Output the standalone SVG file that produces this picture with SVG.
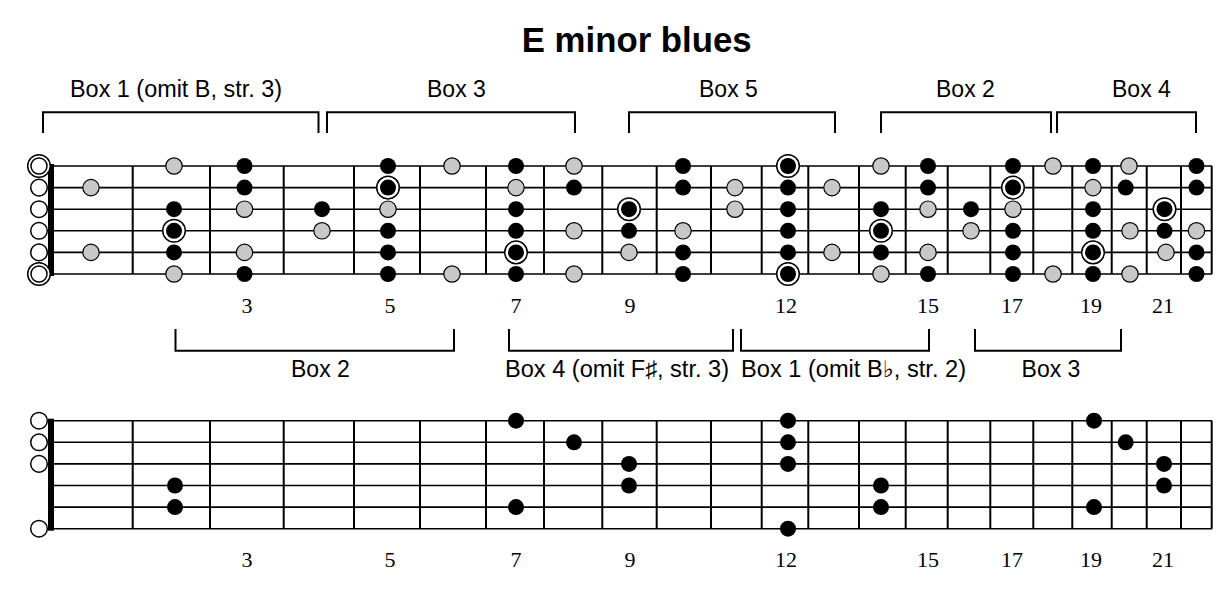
<svg xmlns="http://www.w3.org/2000/svg" xmlns:xlink="http://www.w3.org/1999/xlink" width="1230" height="589" viewBox="0 0 1230 589">
<style>
.str{stroke:#000;stroke-width:1.6}
.fret{stroke:#000;stroke-width:2}
.brk{fill:none;stroke:#000;stroke-width:2}
.lbl{font-family:"Liberation Sans","DejaVu Sans",sans-serif;font-size:23px;fill:#000}
.num{font-family:"Liberation Serif","DejaVu Serif",serif;font-size:22px;text-anchor:middle;fill:#000}
.title{font-family:"Liberation Sans","DejaVu Sans",sans-serif;font-size:34.5px;font-weight:bold;text-anchor:middle;fill:#000}
</style>
<defs>
<circle id="b" r="8" fill="#000"/>
<circle id="g" r="8.2" fill="#c8c8c8" stroke="#000" stroke-width="1.2"/>
<g id="r"><circle r="11.3" fill="#fff" stroke="#000" stroke-width="1.5"/><circle r="8" fill="#000"/></g>
<circle id="o" r="8.3" fill="#fff" stroke="#000" stroke-width="1.5"/>
<g id="oo"><circle r="11.3" fill="#fff" stroke="#000" stroke-width="1.5"/><circle r="8" fill="#fff" stroke="#000" stroke-width="1.5"/></g>
<g id="frets-top">
<path class="fret" d="M132.7,166V274M210,166V274M283.7,166V274M354,166V274M420,166V274M486,166V274M544,166V274M602.3,166V274M656.7,166V274M711,166V274M761.7,166V274M808.3,166V274M859,166V274M905.7,166V274M947.7,166V274M990.3,166V274M1033.3,166V274M1072.3,166V274M1111.7,166V274M1146.7,166V274M1181,166V274M1211.7,166V274"/>
<path class="str" d="M51,166H1212M51,187.6H1212M51,209.2H1212M51,230.8H1212M51,252.4H1212M51,274H1212"/>
<rect x="48" y="164" width="6" height="112" fill="#000"/>
</g>
</defs>

<g id="title"><text class="title" x="636.7" y="51.7" textLength="230" lengthAdjust="spacingAndGlyphs">E minor blues</text></g>

<g id="brackets">
<g id="top-brackets">
<path class="brk" d="M43,133V112.3H318.5V133"/>
<path class="brk" d="M327,133V112.3H575V133"/>
<path class="brk" d="M629,133V112.3H835V133"/>
<path class="brk" d="M881,133V112.3H1051V133"/>
<path class="brk" d="M1057,133V112.3H1196V133"/>
</g>
<g id="bottom-brackets">
<path class="brk" d="M175.5,329V350.7H454V329"/>
<path class="brk" d="M509,329V350.7H733V329"/>
<path class="brk" d="M741,329V350.7H929V329"/>
<path class="brk" d="M975,329V350.7H1121V329"/>
</g>
</g>

<g id="box-labels">
<text class="lbl" x="70" y="96.7" textLength="212" lengthAdjust="spacingAndGlyphs">Box 1 (omit B, str. 3)</text>
<text class="lbl" x="427" y="96.7">Box 3</text>
<text class="lbl" x="699" y="96.7">Box 5</text>
<text class="lbl" x="936" y="96.7">Box 2</text>
<text class="lbl" x="1112" y="96.7">Box 4</text>
<text class="lbl" x="291" y="377.3">Box 2</text>
<text class="lbl" x="505" y="377.3" textLength="224" lengthAdjust="spacingAndGlyphs">Box 4 (omit F♯, str. 3)</text>
<text class="lbl" x="741" y="377.3" textLength="225" lengthAdjust="spacingAndGlyphs">Box 1 (omit B♭, str. 2)</text>
<text class="lbl" x="1021.6" y="377.3">Box 3</text>
</g>

<g id="fretboard-top">
<use xlink:href="#frets-top"/>
</g>

<g id="fret-numbers-top">
<text class="num" x="247" y="312.7">3</text>
<text class="num" x="390" y="312.7">5</text>
<text class="num" x="516" y="312.7">7</text>
<text class="num" x="630" y="312.7">9</text>
<text class="num" x="786" y="312.7">12</text>
<text class="num" x="928" y="312.7">15</text>
<text class="num" x="1012" y="312.7">17</text>
<text class="num" x="1091" y="312.7">19</text>
<text class="num" x="1163" y="312.7">21</text>
</g>

<g id="dots-top">
<use href="#oo" x="39" y="166"/><use href="#o" x="39" y="187.6"/><use href="#o" x="39" y="209.2"/><use href="#o" x="39" y="230.8"/><use href="#o" x="39" y="252.4"/><use href="#oo" x="39" y="274"/>
<use href="#g" x="91" y="187.6"/><use href="#g" x="91" y="252.4"/>
<use href="#g" x="174" y="166"/><use href="#b" x="174" y="209.2"/><use href="#r" x="174" y="230.8"/><use href="#b" x="174" y="252.4"/><use href="#g" x="174" y="274"/>
<use href="#b" x="244.5" y="166"/><use href="#b" x="244.5" y="187.6"/><use href="#g" x="244.5" y="209.2"/><use href="#g" x="244.5" y="252.4"/><use href="#b" x="244.5" y="274"/>
<use href="#b" x="322" y="209.2"/><use href="#g" x="322" y="230.8"/>
<use href="#b" x="388" y="166"/><use href="#r" x="388" y="187.6"/><use href="#g" x="388" y="209.2"/><use href="#b" x="388" y="230.8"/><use href="#b" x="388" y="252.4"/><use href="#b" x="388" y="274"/>
<use href="#g" x="452" y="166"/><use href="#g" x="452" y="274"/>
<use href="#b" x="516" y="166"/><use href="#g" x="516" y="187.6"/><use href="#b" x="516" y="209.2"/><use href="#b" x="516" y="230.8"/><use href="#r" x="516" y="252.4"/><use href="#b" x="516" y="274"/>
<use href="#g" x="574" y="166"/><use href="#b" x="574" y="187.6"/><use href="#g" x="574" y="230.8"/><use href="#g" x="574" y="274"/>
<use href="#r" x="629" y="209.2"/><use href="#b" x="629" y="230.8"/><use href="#g" x="629" y="252.4"/>
<use href="#b" x="683" y="166"/><use href="#b" x="683" y="187.6"/><use href="#g" x="683" y="230.8"/><use href="#b" x="683" y="252.4"/><use href="#b" x="683" y="274"/>
<use href="#g" x="735" y="187.6"/><use href="#g" x="735" y="209.2"/>
<use href="#r" x="788" y="166"/><use href="#b" x="788" y="187.6"/><use href="#b" x="788" y="209.2"/><use href="#b" x="788" y="230.8"/><use href="#b" x="788" y="252.4"/><use href="#r" x="788" y="274"/>
<use href="#g" x="832" y="187.6"/><use href="#g" x="832" y="252.4"/>
<use href="#g" x="881" y="166"/><use href="#b" x="881" y="209.2"/><use href="#r" x="881" y="230.8"/><use href="#b" x="881" y="252.4"/><use href="#g" x="881" y="274"/>
<use href="#b" x="928" y="166"/><use href="#b" x="928" y="187.6"/><use href="#g" x="928" y="209.2"/><use href="#g" x="928" y="252.4"/><use href="#b" x="928" y="274"/>
<use href="#b" x="971" y="209.2"/><use href="#g" x="971" y="230.8"/>
<use href="#b" x="1013" y="166"/><use href="#r" x="1013" y="187.6"/><use href="#g" x="1013" y="209.2"/><use href="#b" x="1013" y="230.8"/><use href="#b" x="1013" y="252.4"/><use href="#b" x="1013" y="274"/>
<use href="#g" x="1053" y="166"/><use href="#g" x="1053" y="274"/>
<use href="#b" x="1093" y="166"/><use href="#g" x="1093" y="187.6"/><use href="#b" x="1093" y="209.2"/><use href="#b" x="1093" y="230.8"/><use href="#r" x="1093" y="252.4"/><use href="#b" x="1093" y="274"/>
<use href="#g" x="1129" y="166"/><use href="#b" x="1125.7" y="187.6"/><use href="#g" x="1130" y="230.8"/><use href="#g" x="1130" y="274"/>
<use href="#r" x="1164.5" y="209.2"/><use href="#b" x="1164.5" y="230.8"/><use href="#g" x="1166" y="252.4"/>
<use href="#b" x="1196.5" y="166"/><use href="#b" x="1196.5" y="187.6"/><use href="#g" x="1196.5" y="230.8"/><use href="#b" x="1196.5" y="252.4"/><use href="#b" x="1196.5" y="274"/>
</g>

<g id="fretboard-bottom">
<use xlink:href="#frets-top" transform="translate(0,254.7)"/>
</g>

<g id="fret-numbers-bottom">
<text class="num" x="247" y="567.4">3</text>
<text class="num" x="390" y="567.4">5</text>
<text class="num" x="516" y="567.4">7</text>
<text class="num" x="630" y="567.4">9</text>
<text class="num" x="786" y="567.4">12</text>
<text class="num" x="928" y="567.4">15</text>
<text class="num" x="1012" y="567.4">17</text>
<text class="num" x="1091" y="567.4">19</text>
<text class="num" x="1163" y="567.4">21</text>
</g>

<g id="dots-bottom">
<use href="#o" x="39" y="420.7"/><use href="#o" x="39" y="442.3"/><use href="#o" x="39" y="463.9"/><use href="#o" x="39" y="528.7"/>
<use href="#b" x="175" y="485.5"/><use href="#b" x="175" y="507.1"/>
<use href="#b" x="516" y="420.7"/><use href="#b" x="516" y="507.1"/>
<use href="#b" x="574" y="442.3"/>
<use href="#b" x="629" y="463.9"/><use href="#b" x="629" y="485.5"/>
<use href="#b" x="788" y="420.7"/><use href="#b" x="788" y="442.3"/><use href="#b" x="788" y="463.9"/><use href="#b" x="788" y="528.7"/>
<use href="#b" x="881" y="485.5"/><use href="#b" x="881" y="507.1"/>
<use href="#b" x="1094" y="420.7"/><use href="#b" x="1094" y="507.1"/>
<use href="#b" x="1125.7" y="442.3"/>
<use href="#b" x="1164" y="463.9"/><use href="#b" x="1164" y="485.5"/>
</g>
</svg>
